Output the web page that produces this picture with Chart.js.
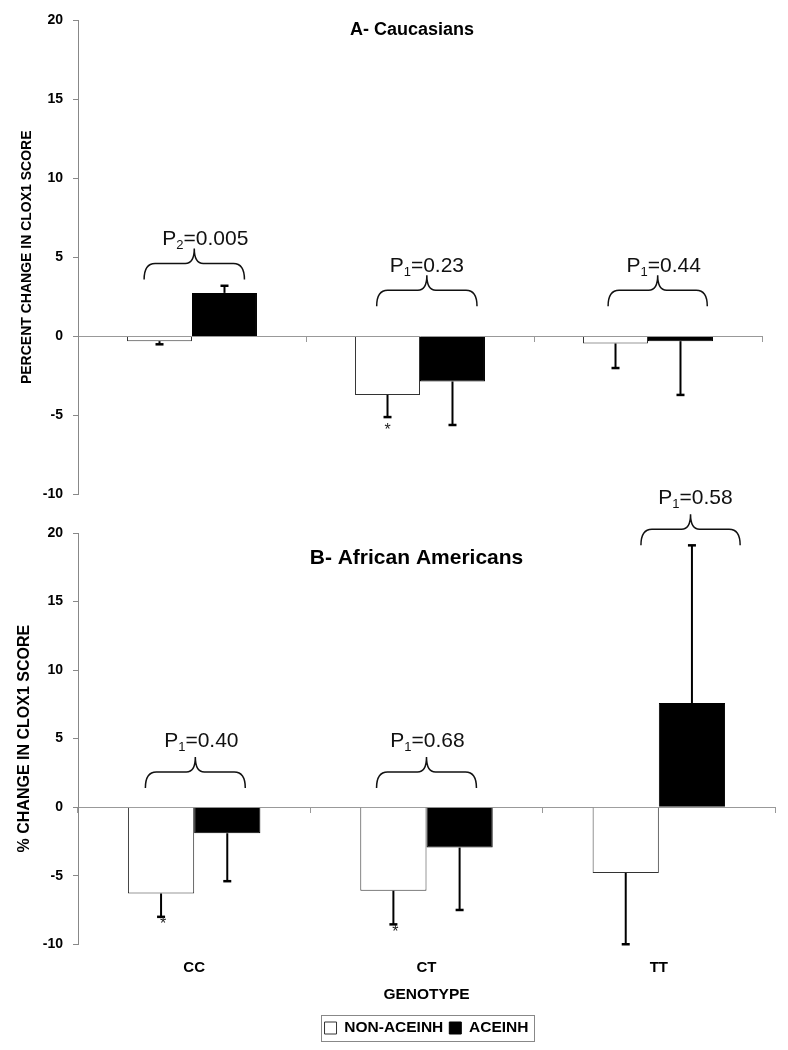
<!DOCTYPE html>
<html>
<head>
<meta charset="utf-8">
<title>Percent change in CLOX1 score by genotype</title>
<script src="https://cdn.jsdelivr.net/npm/chart.js@4.4.1/dist/chart.umd.min.js"></script>
<style>
  html, body { margin: 0; padding: 0; background: #fff; }
  #wrap { position: relative; width: 788px; height: 1050px; }
  canvas { position: absolute; left: 0; }
  #topChart { top: 0; }
  #bottomChart { top: 460px; }
</style>
</head>
<body>
<div id="wrap">
  <canvas id="topChart" width="788" height="513"></canvas>
  <canvas id="bottomChart" width="788" height="590"></canvas>
</div>
<script>
// categories and series
const genotypes = ['CC', 'CT', 'TT'];
const seriesNames = ['NON-ACEINH', 'ACEINH'];

// A- Caucasians
const cauNonAce = [-0.3, -3.7, -0.45];
const cauNonAceErr = [0.2, 1.4, 1.55];
const cauAce = [2.75, -2.85, -0.3];
const cauAceErr = [0.45, 2.75, 3.4];
const cauNonAceStar = [false, true, false];
const cauAceStar = [false, false, false];
const cauPSub = ['2', '1', '1'];
const cauPVal = ['0.005', '0.23', '0.44'];

// B- African Americans
const afrNonAce = [-6.3, -6.1, -4.8];
const afrNonAceErr = [1.7, 2.45, 5.2];
const afrAce = [-1.9, -2.95, 7.6];
const afrAceErr = [3.5, 4.55, 11.5];
const afrNonAceStar = [true, true, false];
const afrAceStar = [false, false, false];
const afrPSub = ['1', '1', '1'];
const afrPVal = ['0.40', '0.68', '0.58'];

// y axis
const yMin = -10;
const yMax = 20;
const yStep = 5;

Chart.defaults.font.family = '"Liberation Sans", Arial, sans-serif';
Chart.defaults.color = '#000';

const FONT = '"Liberation Sans", Arial, sans-serif';

function drawP(ctx, sub, val, cx, baseY) {
  const big = '21px ' + FONT;
  const small = '13px ' + FONT;
  ctx.font = big;
  const wP = ctx.measureText('P').width;
  const wV = ctx.measureText('=' + val).width;
  ctx.font = small;
  const wS = ctx.measureText(sub).width;
  let x = cx - (wP + wS + wV) / 2;
  ctx.textAlign = 'left';
  ctx.textBaseline = 'alphabetic';
  ctx.fillStyle = '#111';
  ctx.font = big;
  ctx.fillText('P', x, baseY);
  x += wP;
  ctx.font = small;
  ctx.fillText(sub, x, baseY + 4);
  x += wS;
  ctx.font = big;
  ctx.fillText('=' + val, x, baseY);
}

// error bars, asterisks, p-value braces and the panel title
const panelMarks = {
  id: 'panelMarks',
  afterDatasetsDraw(chart, args, opts) {
    const ctx = chart.ctx;
    const xs = chart.scales.x;
    const ys = chart.scales.y;
    const area = chart.chartArea;
    const cw = xs.width / chart.data.labels.length;
    ctx.save();

    chart.data.datasets.forEach((ds, i) => {
      const meta = chart.getDatasetMeta(i);
      meta.data.forEach((bar, j) => {
        const v = ds.data[j];
        const end = v >= 0 ? v + ds.err[j] : v - ds.err[j];
        const yEnd = ys.getPixelForValue(end);
        ctx.strokeStyle = '#000';
        ctx.lineWidth = 2;
        ctx.beginPath();
        ctx.moveTo(bar.x, bar.y);
        ctx.lineTo(bar.x, yEnd);
        ctx.stroke();
        ctx.lineWidth = 2.5;
        ctx.beginPath();
        ctx.moveTo(bar.x - 4, yEnd);
        ctx.lineTo(bar.x + 4, yEnd);
        ctx.stroke();
        if (ds.star[j]) {
          ctx.fillStyle = '#222';
          ctx.font = '16px ' + FONT;
          ctx.textAlign = 'center';
          ctx.textBaseline = 'middle';
          ctx.fillText('*', bar.x + opts.starDx, yEnd + opts.starDy);
        }
      });
    });

    opts.braces.forEach((b, k) => {
      const xc = xs.getPixelForValue(k);
      const x0 = xc + b.from * cw;
      const x1 = xc + b.to * cw;
      const xm = (x0 + x1) / 2;
      const yE = ys.getPixelForValue(b.y);
      const yH = yE - 16;
      const yP = yH - 15;
      ctx.strokeStyle = '#111';
      ctx.lineWidth = 1.5;
      ctx.beginPath();
      ctx.moveTo(x0, yE);
      ctx.quadraticCurveTo(x0, yH, x0 + 11, yH);
      ctx.lineTo(xm - 9, yH);
      ctx.quadraticCurveTo(xm, yH, xm, yP);
      ctx.quadraticCurveTo(xm, yH, xm + 9, yH);
      ctx.lineTo(x1 - 11, yH);
      ctx.quadraticCurveTo(x1, yH, x1, yE);
      ctx.stroke();
      drawP(ctx, opts.pSub[k], opts.pVal[k], xm + b.dx, yP - opts.textGap);
    });

    ctx.fillStyle = '#000';
    ctx.font = 'bold ' + opts.titleSize + 'px ' + FONT;
    ctx.textAlign = 'center';
    ctx.textBaseline = 'middle';
    ctx.fillText(opts.title, (area.left + area.right) / 2 + opts.titleDx, area.top + opts.titleDy);
    ctx.restore();
  }
};

// legend centred under the plot, with a thin frame
const legendFrame = {
  id: 'legendFrame',
  afterLayout(chart) {
    const lg = chart.legend;
    if (!lg || !lg.options.display) return;
    const shift = (chart.chartArea.left + chart.chartArea.right) / 2 - (lg.left + lg.right) / 2;
    lg.left += shift;
    lg.right += shift;
  },
  afterDraw(chart) {
    const lg = chart.legend;
    if (!lg || !lg.options.display) return;
    const boxes = lg.legendHitBoxes;
    const l = Math.min(...boxes.map(b => b.left));
    const r = Math.max(...boxes.map(b => b.left + b.width));
    const t = Math.min(...boxes.map(b => b.top));
    const btm = Math.max(...boxes.map(b => b.top + b.height));
    const ctx = chart.ctx;
    ctx.save();
    ctx.strokeStyle = '#888';
    ctx.lineWidth = 1;
    ctx.strokeRect(Math.round(l - 4) + 0.5, Math.round(t - 5) + 0.5, Math.round(r - l + 9), Math.round(btm - t + 10));
    ctx.restore();
  }
};

function makePanel(id, p) {
  const ctx = document.getElementById(id).getContext('2d');
  return new Chart(ctx, {
    type: 'bar',
    data: {
      labels: genotypes,
      datasets: [
        {
          label: seriesNames[0],
          data: p.nonAce,
          err: p.nonAceErr,
          star: p.nonAceStar,
          backgroundColor: '#fff',
          borderColor: '#333',
          borderWidth: 1,
          categoryPercentage: 0.57,
          barPercentage: 1
        },
        {
          label: seriesNames[1],
          data: p.ace,
          err: p.aceErr,
          star: p.aceStar,
          backgroundColor: '#000',
          borderColor: '#000',
          borderWidth: 1,
          categoryPercentage: 0.57,
          barPercentage: 1
        }
      ]
    },
    options: {
      responsive: false,
      animation: false,
      events: [],
      layout: { padding: p.padding },
      plugins: {
        tooltip: { enabled: false },
        legend: {
          display: p.showLegend,
          position: 'bottom',
          labels: {
            boxWidth: 12,
            boxHeight: 12,
            padding: 6,
            color: '#000',
            font: { size: 15.5, weight: 'bold' }
          }
        },
        panelMarks: p.marks
      },
      scales: {
        x: {
          display: p.showX,
          position: 'bottom',
          grid: { display: false, drawTicks: false },
          border: { display: false },
          ticks: { padding: 15, color: '#000', font: { size: 15, weight: 'bold' } },
          title: {
            display: true,
            text: 'GENOTYPE',
            color: '#000',
            font: { size: 15.5, weight: 'bold' },
            padding: { top: 0, bottom: 10 }
          },
          afterFit(s) { s.height = p.showX ? 70 : 0; }
        },
        xz: {
          type: 'category',
          axis: 'x',
          position: { y: 0 },
          offset: true,
          grid: { offset: true, drawOnChartArea: false, drawTicks: true, tickLength: 5, color: '#999' },
          border: { display: true, color: '#999', width: 1 },
          ticks: { display: false }
        },
        y: {
          position: 'left',
          min: yMin,
          max: yMax,
          ticks: { stepSize: yStep, padding: 10, color: '#000', font: { size: 14, weight: 'bold' } },
          grid: { drawOnChartArea: false, drawTicks: true, tickLength: 5, color: '#888' },
          border: { color: '#888' },
          title: {
            display: true,
            text: p.yTitle,
            color: '#000',
            font: { size: p.yTitleSize, weight: 'bold' },
            padding: { top: p.yTitlePad, bottom: 0 }
          },
          afterFit(s) { s.width = 78; }
        }
      }
    },
    plugins: [panelMarks, legendFrame]
  });
}

makePanel('topChart', {
  nonAce: cauNonAce, nonAceErr: cauNonAceErr, nonAceStar: cauNonAceStar,
  ace: cauAce, aceErr: cauAceErr, aceStar: cauAceStar,
  showLegend: false,
  showX: false,
  padding: { top: 20, bottom: 3, left: 0, right: 26 },
  yTitle: 'PERCENT CHANGE IN CLOX1 SCORE',
  yTitleSize: 14,
  yTitlePad: 18.6,
  marks: {
    title: 'A- Caucasians', titleSize: 18, titleDx: -8, titleDy: 10,
    pSub: cauPSub, pVal: cauPVal, textGap: 3,
    starDx: 0, starDy: 14,
    braces: [
      { from: -0.21, to: 0.23, y: 3.6, dx: 11 },
      { from: -0.19, to: 0.25, y: 1.9, dx: 0 },
      { from: -0.175, to: 0.26, y: 1.9, dx: 6 }
    ]
  }
});

makePanel('bottomChart', {
  nonAce: afrNonAce, nonAceErr: afrNonAceErr, nonAceStar: afrNonAceStar,
  ace: afrAce, aceErr: afrAceErr, aceStar: afrAceStar,
  showLegend: true,
  showX: true,
  padding: { top: 73, bottom: 4.25, left: 0, right: 13 },
  yTitle: '% CHANGE IN CLOX1 SCORE',
  yTitleSize: 16,
  yTitlePad: 15.4,
  marks: {
    title: 'B- African Americans', titleSize: 21, titleDx: -10, titleDy: 25,
    pSub: afrPSub, pVal: afrPVal, textGap: 10,
    starDx: 2, starDy: 8,
    braces: [
      { from: -0.21, to: 0.22, y: 1.4, dx: 6 },
      { from: -0.215, to: 0.215, y: 1.4, dx: 1 },
      { from: -0.077, to: 0.35, y: 19.1, dx: 5 }
    ]
  }
});
</script>
</body>
</html>
